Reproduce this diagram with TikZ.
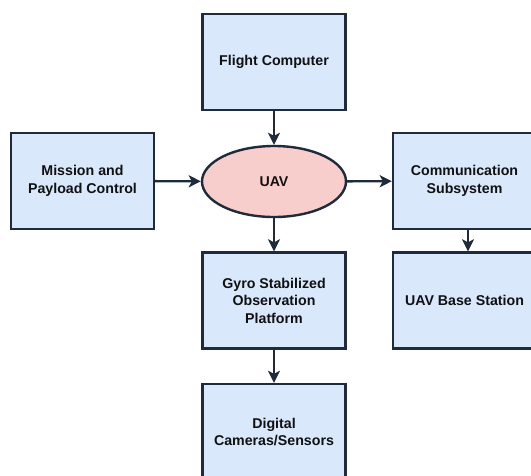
\documentclass[tikz,border=0pt]{standalone}
\usepackage{fontspec}
\setmainfont{Liberation Sans}
\usetikzlibrary{arrows.meta,shapes.geometric}
\definecolor{boxfill}{HTML}{DAE8FC}
\definecolor{uavfill}{HTML}{F8CECC}
\definecolor{edge}{HTML}{1F2B3A}
\definecolor{ink}{HTML}{111111}
\tikzset{
  block/.style={draw=edge, line width=2.4pt, fill=boxfill, rectangle,
    minimum width=143pt, minimum height=96pt, inner sep=0pt,
    align=center, font=\fontsize{14.2pt}{17.5pt}\selectfont\bfseries, text=ink},
  hub/.style={draw=edge, line width=2.4pt, fill=uavfill, ellipse,
    minimum width=144pt, minimum height=71pt, inner sep=0pt,
    font=\fontsize{14.2pt}{17.5pt}\selectfont\bfseries, text=ink},
  arr/.style={draw=edge, line width=2.4pt, -{Stealth[length=12pt,width=12pt,inset=3pt]}}
}
\begin{document}
\begin{tikzpicture}[x=1pt,y=-1pt]
\useasboundingbox (0,0) rectangle (531,475);
\begin{scope}
\clip (0,0) rectangle (531,475);
\node[block] (flight) at (274,62) {Flight Computer};
\node[block] (mission) at (82.5,181) {Mission and\\Payload Control};
\node[hub] (uav) at (274,181.5) {UAV};
\node[block] (comm) at (464.5,181) {Communication\\Subsystem};
\node[block] (gyro) at (274,300.5) {Gyro Stabilized\\Observation\\Platform};
\node[block] (base) at (464.5,300.5) {UAV Base Station};
\node[block] (cams) at (274,432) {Digital\\Cameras/Sensors};
\draw[arr] (flight) -- (uav);
\draw[arr] (mission) -- (uav);
\draw[arr] (uav) -- (comm);
\draw[arr] (uav) -- (gyro);
\draw[arr] (gyro) -- (cams);
\draw[arr] ([xshift=3.5pt]comm.south) -- ([xshift=3.5pt]base.north);
\end{scope}
\end{tikzpicture}
\end{document}
